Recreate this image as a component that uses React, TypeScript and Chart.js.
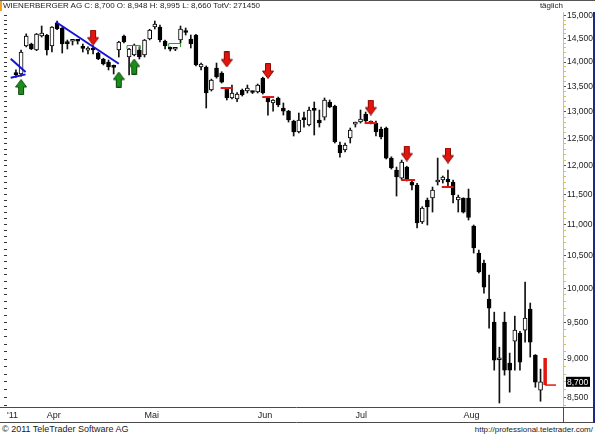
import React, { useEffect, useRef } from 'react';
import { Chart, registerables } from 'chart.js';

Chart.register(...registerables);
Chart.defaults.font.family = "'Liberation Sans', Arial, sans-serif";

// Daily candles in EUR, one entry per trading day (late March to 22 Aug 2011)
const opens = [13.760, 13.753, 14.339, 14.381, 14.254, 14.554, 14.575, 14.339, 14.838, 14.728,
  14.400, 14.440, 14.445, 14.300, 14.250, 14.275, 14.190, 14.064, 14.001, 13.898,
  14.254, 14.554, 14.106, 14.148, 14.254, 14.148, 14.489, 14.750, 14.750, 14.445,
  14.280, 14.270, 14.467, 14.640, 14.489, 14.575, 13.898, 13.898, 13.430, 13.877,
  13.775, 13.450, 13.272, 13.252, 13.430, 13.410, 13.390, 13.390, 13.672, 13.272,
  13.174, 13.272, 13.075, 13.016, 12.825, 12.616, 12.860, 12.748, 13.040, 12.844,
  12.900, 13.193, 13.114, 12.375, 12.283, 12.505, 12.765, 12.805, 12.958, 12.786,
  12.786, 12.673, 12.692, 12.137, 11.923, 11.781, 11.976, 11.712, 11.659, 11.036,
  11.402, 11.436, 11.712, 11.747, 11.764, 11.712, 11.402, 11.436, 11.436, 10.970,
  10.537, 10.382, 9.840, 9.508, 8.990, 9.508, 8.945, 9.242, 9.353, 9.395,
  9.694, 9.053, 8.592];
const highs = [13.840, 14.254, 14.600, 14.400, 14.610, 14.772, 14.590, 14.760, 14.882, 14.740,
  14.467, 14.467, 14.467, 14.381, 14.320, 14.340, 14.210, 14.080, 14.043, 13.939,
  14.440, 14.575, 14.290, 14.381, 14.320, 14.480, 14.700, 14.882, 14.794, 14.467,
  14.320, 14.310, 14.772, 14.728, 14.575, 14.590, 13.980, 13.920, 13.650, 13.980,
  13.800, 13.470, 13.530, 13.380, 13.450, 13.530, 13.410, 13.550, 13.690, 13.290,
  13.240, 13.290, 13.174, 13.030, 12.840, 12.978, 12.997, 13.095, 13.193, 13.036,
  13.272, 13.232, 13.130, 12.430, 12.412, 12.692, 12.805, 13.036, 12.997, 12.825,
  12.825, 12.710, 12.710, 12.160, 11.976, 12.101, 11.990, 11.730, 11.690, 11.290,
  11.436, 11.625, 12.137, 11.817, 11.923, 11.747, 11.487, 11.440, 11.590, 10.986,
  10.584, 10.428, 10.198, 9.650, 9.160, 9.650, 9.080, 9.593, 9.380, 10.093,
  9.782, 9.060, 8.866];
const lows = [13.690, 13.712, 14.320, 14.260, 14.240, 14.532, 14.148, 14.211, 14.690, 14.190,
  14.275, 14.360, 14.380, 14.211, 14.170, 14.170, 14.050, 13.940, 13.836, 13.753,
  14.106, 14.403, 13.733, 14.130, 14.064, 14.106, 14.470, 14.706, 14.424, 14.275,
  14.233, 14.240, 14.403, 14.575, 14.296, 13.920, 13.836, 13.075, 13.410, 13.670,
  13.570, 13.232, 13.252, 13.200, 13.310, 13.370, 13.360, 13.370, 13.350, 12.939,
  13.013, 13.100, 12.939, 12.805, 12.542, 12.600, 12.710, 12.730, 12.560, 12.710,
  12.844, 13.080, 12.412, 12.155, 12.246, 12.412, 12.710, 12.786, 12.805, 12.770,
  12.542, 12.486, 12.120, 11.940, 11.470, 11.747, 11.730, 11.573, 10.937, 11.010,
  10.986, 11.200, 11.659, 11.694, 11.625, 11.352, 11.200, 11.184, 11.068, 10.537,
  10.229, 9.927, 9.423, 8.852, 8.430, 8.787, 8.567, 8.852, 8.852, 9.228,
  9.026, 8.630, 8.452];
const closes = [13.740, 14.211, 14.554, 14.275, 14.597, 14.619, 14.254, 14.750, 14.706, 14.381,
  14.390, 14.445, 14.440, 14.290, 14.254, 14.254, 14.064, 13.960, 13.898, 13.890,
  14.424, 14.424, 14.275, 14.360, 14.106, 14.467, 14.684, 14.816, 14.467, 14.339,
  14.270, 14.280, 14.706, 14.630, 14.381, 13.939, 13.960, 13.370, 13.631, 13.692,
  13.590, 13.272, 13.370, 13.350, 13.331, 13.470, 13.380, 13.530, 13.370, 13.193,
  13.232, 13.134, 13.016, 12.844, 12.616, 12.844, 12.850, 13.036, 13.030, 12.786,
  13.232, 13.095, 12.430, 12.228, 12.375, 12.654, 12.770, 12.860, 12.825, 12.805,
  12.616, 12.523, 12.137, 11.958, 11.799, 12.066, 11.747, 11.659, 11.019, 11.267,
  11.284, 11.573, 11.747, 11.799, 11.712, 11.487, 11.452, 11.200, 11.110, 10.617,
  10.244, 10.017, 9.708, 8.985, 9.010, 8.852, 8.852, 9.395, 8.959, 9.565,
  9.228, 8.695, 8.700];

// time axis: month names and the candle index where each month starts
const xMin = -1.74;
const xMax = 106.37;
const monthNames = ["'11", 'Apr', 'Mai', 'Jun', 'Jul', 'Aug'];
const monthStarts = [xMin, 6, 25, 47, 66, 87];

// price axis
const yMin = 8.38;
const yMax = 15.083;
const priceTicks = [8.5, 9, 9.5, 10, 10.5, 11, 11.5, 12, 12.5, 13, 13.5, 14, 14.5, 15];

// signal markers: [candle index, price]
const downArrows = [[15, 14.52], [41, 14.054], [49, 13.815], [69, 13.085], [76, 12.219], [84, 12.183]];
const upArrows = [[1, 13.49], [20, 13.641], [23, 13.908]];

// drawn lines: [index, price, index, price]
const blueLines = [[7.78, 14.86, 20.0, 13.966], [-1.02, 14.07, 1.87, 13.795], [-1.02, 13.678, 1.87, 13.746]];
// short resistance marks: [from index, to index, price]
const redLevels = [[39.8, 42.1, 13.47], [47.9, 50.2, 13.29], [67.8, 70.1, 12.786], [74.9, 77.6, 11.747], [82.8, 85.1, 11.625]];
// green brackets: [from index, to index, top price, foot price]
const greenBrackets = [[21.6, 24.1, 14.349, 14.276], [29.7, 32.0, 14.392, 14.317]];
// last signal: [index, top price, foot price, foot end index]
const lastSignal = [102.9, 9.014, 8.658, 105];

const rulerTicks = Array.from({ length: 67 }, (_, k) => (84 + k) / 10);
const isMajor = (v: number) => priceTicks.some((p) => Math.abs(p - v) < 1e-6);
const fmt = (v: number) => v.toFixed(3).replace('.', ',');

function makeArrow(fill: string, stroke: string, down: boolean) {
  const c = document.createElement('canvas');
  c.width = 12;
  c.height = 16;
  const g = c.getContext('2d')!;
  const pts = [[3.5, 0.5], [8.5, 0.5], [8.5, 8], [11.5, 8], [6, 15.5], [0.5, 8], [3.5, 8]];
  g.beginPath();
  pts.forEach(([px, py], k) => {
    const yy = down ? py : 16 - py;
    if (k === 0) g.moveTo(px, yy);
    else g.lineTo(px, yy);
  });
  g.closePath();
  g.fillStyle = fill;
  g.fill();
  g.strokeStyle = stroke;
  g.lineWidth = 1;
  g.stroke();
  return c;
}

const framePlugin = {
  id: 'frame',
  afterDraw(chart: any) {
    const { ctx, chartArea: a, scales } = chart;
    const x = scales.x;
    const y = scales.y;
    ctx.save();
    ctx.strokeStyle = '#4a4a4a';
    ctx.lineWidth = 1;
    ctx.beginPath();
    ctx.moveTo(0, x.top + 0.5);
    ctx.lineTo(y.right, x.top + 0.5);
    ctx.moveTo(0, x.bottom - 0.5);
    ctx.lineTo(y.right, x.bottom - 0.5);
    ctx.moveTo(a.right + 0.5, x.top);
    ctx.lineTo(a.right + 0.5, x.bottom);
    ctx.stroke();
    ctx.strokeStyle = '#1c2a86';
    ctx.lineWidth = 2;
    ctx.beginPath();
    ctx.moveTo(y.right + 1, a.top);
    ctx.lineTo(y.right + 1, x.bottom);
    ctx.stroke();

    // last close tag on the price axis
    const last = closes[closes.length - 1];
    const py = y.getPixelForValue(last);
    ctx.fillStyle = '#000';
    ctx.fillRect(a.right + 3, py - 5, 24, 10);
    ctx.fillStyle = '#fff';
    ctx.font = "8.5px 'Liberation Sans', Arial, sans-serif";
    ctx.textBaseline = 'middle';
    ctx.fillText(fmt(last), a.right + 4, py + 0.5);
    ctx.restore();
  },
};

export default function App() {
  const canvasRef = useRef<HTMLCanvasElement>(null);

  useEffect(() => {
    if (!canvasRef.current) return;
    const redArrow = makeArrow('#e3150f', '#8a0a06', true);
    const greenArrow = makeArrow('#1c8c1c', '#0c4a0c', false);

    const lineSet = (pts: number[][], color: string, width: number) => ({
      type: 'line' as const,
      data: pts.map(([px, py]) => ({ x: px, y: py })),
      borderColor: color,
      borderWidth: width,
      pointRadius: 0,
      fill: false,
      order: -1,
    });

    const datasets: any[] = [
      {
        type: 'bar',
        data: opens.map((o, i) => ({ x: i, y: [o, closes[i]] })),
        backgroundColor: opens.map((o, i) => (closes[i] >= o ? '#ffffff' : '#000000')),
        borderColor: '#000000',
        borderWidth: 1,
        borderSkipped: false,
        barThickness: 4,
        minBarLength: 2,
        grouped: false,
        order: 0,
      },
      {
        type: 'bar',
        data: lows.map((l, i) => ({ x: i, y: [l, highs[i]] })),
        backgroundColor: '#111111',
        barThickness: 1,
        grouped: false,
        order: 1,
      },
      ...blueLines.map(([a, p, b, q]) => lineSet([[a, p], [b, q]], '#1414d2', 2)),
      ...redLevels.map(([a, b, p]) => lineSet([[a, p], [b, p]], '#e3150f', 2)),
      ...greenBrackets.map(([a, b, top, foot]) =>
        lineSet([[a, foot], [a, top], [b, top], [b, foot]], '#2e9a2e', 1)),
      lineSet([[lastSignal[0], lastSignal[1]], [lastSignal[0], lastSignal[2]]], '#e3150f', 3.5),
      lineSet([[lastSignal[0], lastSignal[2]], [lastSignal[3], lastSignal[2]]], '#e3150f', 1.5),
      {
        type: 'line',
        data: downArrows.map(([i, p]) => ({ x: i, y: p })),
        showLine: false,
        pointStyle: redArrow,
        pointRadius: 6,
        order: -2,
      },
      {
        type: 'line',
        data: upArrows.map(([i, p]) => ({ x: i, y: p })),
        showLine: false,
        pointStyle: greenArrow,
        pointRadius: 6,
        order: -2,
      },
    ];

    const chart = new Chart(canvasRef.current, {
      type: 'bar',
      data: { datasets },
      options: {
        responsive: false,
        animation: false,
        events: [],
        layout: { padding: { top: 12, right: 2, left: 0, bottom: 0 } },
        plugins: { legend: { display: false }, tooltip: { enabled: false } },
        scales: {
          x: {
            type: 'linear',
            min: xMin,
            max: xMax,
            bounds: 'data',
            offset: false,
            grid: { display: false, drawTicks: false },
            border: { display: false },
            afterBuildTicks: (s: any) => {
              s.ticks = monthStarts.map((v) => ({ value: v }));
            },
            afterFit: (s: any) => {
              s.height = 16;
            },
            ticks: {
              autoSkip: false,
              maxRotation: 0,
              align: 'start',
              padding: 3,
              color: '#222',
              font: { size: 9 },
              callback: (v: any) => monthNames[monthStarts.indexOf(v)] ?? '',
            },
          },
          y: {
            type: 'logarithmic',
            position: 'right',
            min: yMin,
            max: yMax,
            bounds: 'data',
            afterBuildTicks: (s: any) => {
              s.ticks = rulerTicks.map((v) => ({ value: v }));
            },
            afterFit: (s: any) => {
              s.width = 30;
            },
            grid: {
              drawOnChartArea: false,
              tickLength: 3,
              color: (c: any) => (c.tick && isMajor(c.tick.value) ? '#555555' : '#d6c35c'),
            },
            border: { display: true, color: '#d6c35c', dash: [1, 1] },
            ticks: {
              autoSkip: false,
              padding: 1,
              color: '#222',
              font: { size: 8.5 },
              callback: (v: any) => (isMajor(v) ? fmt(v) : ''),
            },
          },
          yl: {
            type: 'logarithmic',
            position: 'left',
            min: yMin,
            max: yMax,
            bounds: 'data',
            afterBuildTicks: (s: any) => {
              s.ticks = rulerTicks.map((v) => ({ value: v }));
            },
            afterFit: (s: any) => {
              s.width = 3;
            },
            grid: { drawOnChartArea: false, tickLength: 3, color: '#333' },
            border: { display: false },
            ticks: { display: false },
          },
        },
      } as any,
      plugins: [framePlugin],
    });
    return () => chart.destroy();
  }, []);

  const font = "'Liberation Sans', Arial, sans-serif";
  return (
    <div style={{ position: 'absolute', left: 0, top: 0, width: 595, height: 436, background: '#fff', overflow: 'hidden', fontFamily: font, color: '#222' }}>
      <canvas ref={canvasRef} width={595} height={423} style={{ position: 'absolute', left: 0, top: 0 }} />
      <div style={{ position: 'absolute', left: 0, top: 0, width: 595, height: 1, background: '#555' }} />
      <div style={{ position: 'absolute', left: 0, top: 1, width: 2, height: 10, background: '#f4a21c' }} />
      <div style={{ position: 'absolute', left: 3, top: 1, fontSize: 8, lineHeight: '10px', whiteSpace: 'nowrap' }}>
        WIENERBERGER AG C: 8,700 O: 8,948 H: 8,995 L: 8,660 TotV: 271450
      </div>
      <div style={{ position: 'absolute', right: 32, top: 1, fontSize: 8, lineHeight: '10px' }}>täglich</div>
      <div style={{ position: 'absolute', left: 2, top: 424, fontSize: 9, lineHeight: '11px', whiteSpace: 'nowrap' }}>
        © 2011 TeleTrader Software AG
      </div>
      <div style={{ position: 'absolute', right: 2, top: 425, fontSize: 8, lineHeight: '10px', whiteSpace: 'nowrap' }}>
        http://professional.teletrader.com/
      </div>
    </div>
  );
}
